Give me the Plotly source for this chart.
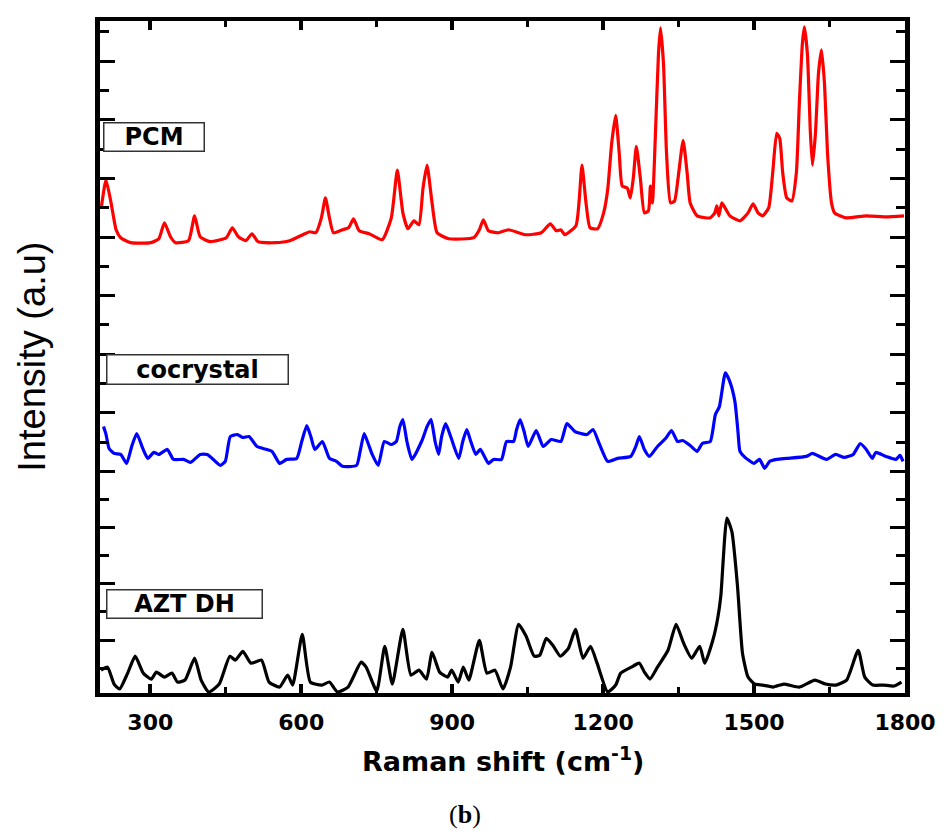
import plotly.graph_objects as go

# ---------------- data (Raman shift in cm-1, intensity in a.u. incl. stack offset) ----------------
pcm_x = [203, 212, 222, 232, 241, 261, 301, 317, 328, 340, 350, 376, 388, 399, 419, 451, 463, 475,
         490, 502, 514, 548, 577, 603, 617, 629, 640, 648, 656, 664, 682, 694, 704, 715, 735, 761,
         779, 791, 802, 812, 824, 834, 842, 850, 860, 870, 893, 943, 954, 962, 972, 992, 1012, 1045,
         1077, 1095, 1107, 1116, 1124, 1146, 1152, 1158, 1166, 1174, 1189, 1201, 1209, 1217, 1225,
         1232, 1238, 1248, 1254, 1260, 1266, 1274, 1282, 1290, 1294, 1298, 1304, 1310, 1314, 1320,
         1326, 1334, 1342, 1349, 1359, 1367, 1373, 1387, 1413, 1422, 1426, 1430, 1436, 1452, 1472,
         1488, 1498, 1508, 1517, 1529, 1537, 1545, 1551, 1557, 1565, 1575, 1584, 1590, 1596, 1600,
         1606, 1612, 1616, 1622, 1628, 1634, 1640, 1646, 1654, 1660, 1683, 1723, 1762, 1798]
pcm_y = [480, 506, 483, 456, 448, 443, 443, 447, 463, 449, 443, 445, 470, 449, 444, 448, 458, 449,
         445, 452, 444, 443, 445, 451, 454, 453, 468, 488, 468, 453, 456, 458, 467, 455, 452, 446,
         468, 516, 473, 457, 465, 461, 498, 521, 483, 453, 447, 448, 456, 466, 455, 453, 456, 451,
         453, 462, 455, 456, 451, 460, 483, 521, 483, 458, 457, 473, 496, 543, 571,
         533, 500, 498, 488, 508, 540, 508, 473, 475, 500, 483, 553, 633, 659, 623,
         533, 483, 485, 508, 546, 513, 483, 470, 468, 473, 480, 470, 483, 470, 465,
         473, 482, 473, 470, 478, 513, 553, 548, 513, 488, 485, 513, 583, 643, 660,
         633, 553, 521, 553, 613, 637, 603, 533, 483, 473, 468, 470, 469, 470]

co_x = [207, 212, 218, 228, 241, 253, 263, 273, 285, 295, 307, 317, 334, 346, 366, 380, 399, 413,
        423, 439, 449, 459, 473, 484, 496, 512, 524, 542, 557, 571, 591, 601, 611, 619, 627, 642,
        656, 670, 682, 710, 717, 725, 733, 741, 753, 765, 779, 789, 796, 802, 810, 820, 840, 850,
        858, 866, 873, 879, 887, 897, 913, 921, 929, 937, 947, 956, 972, 982, 998, 1008, 1022,
        1028, 1035, 1043, 1051, 1067, 1081, 1097, 1116, 1128, 1144, 1156, 1168, 1180, 1193, 1209,
        1229, 1255, 1265, 1272, 1282, 1292, 1308, 1324, 1336, 1348, 1358, 1373, 1387, 1397, 1413,
        1423, 1431, 1443, 1452, 1462, 1468, 1472, 1482, 1500, 1511, 1521, 1531, 1545, 1565, 1604,
        1616, 1644, 1662, 1679, 1697, 1711, 1723, 1735, 1742, 1762, 1782, 1790, 1796]
co_y = [258, 250, 236, 231, 230, 221, 238, 251, 236, 226, 232, 230, 235, 225, 225, 222, 230, 230,
        226, 219, 223, 248, 250, 247, 248, 238, 236, 233, 221, 225, 226, 243, 259, 248, 235, 243,
        226, 223, 218, 219, 233, 251, 241, 230, 219, 243, 240, 243, 258, 265, 243, 225, 244, 258,
        265, 243, 230, 248, 261, 248, 226, 243, 255, 243, 230, 235, 221, 225, 225, 243, 243,
        255, 265, 253, 238, 254, 238, 245, 243, 261, 253, 251, 250, 255, 240, 223,
        226, 228, 238, 248, 235, 228, 238, 246, 254, 243, 244, 239, 233, 241, 243,
        270, 278, 312, 303, 283, 253, 233, 227, 221, 225, 216, 223, 225, 226, 228,
        231, 225, 230, 227, 230, 241, 235, 226, 232, 228, 225, 229, 223]

azt_x = [202, 215, 228, 239, 255, 270, 286, 302, 312, 328, 343, 354, 369, 388, 401, 416, 437, 458,
         469, 484, 500, 521, 536, 557, 573, 583, 602, 618, 641, 656, 672, 693, 719, 729, 750, 766,
         781, 802, 818, 834, 849, 860, 875, 891, 899, 912, 922, 933, 954, 969, 985, 1001, 1016,
         1032, 1047, 1063, 1074, 1087, 1100, 1115, 1131, 1145, 1160, 1175, 1188, 1209, 1225, 1235,
         1256, 1272, 1282, 1293, 1308, 1329, 1345, 1360, 1376, 1392, 1402, 1418, 1428, 1434, 1446,
         1456, 1467, 1477, 1488, 1501, 1517, 1538, 1559, 1590, 1621, 1642, 1663, 1684, 1707, 1720,
         1736, 1757, 1778, 1793]
azt_y = [13, 16, -1, -6, 10, 27, 10, 4, 11, 6, 10, 1, 3, 25, 3, -9, -1, 27,
         23, 32, 20, 23, 1, -4, 8, -2, 49, 1, -2, 1, -9, -4, 21, 16, -8, 37,
         -1, 54, 8, 13, 4, 31, 11, 6, 13, 1, 16, 3, 43, 10, 13, -6, 16,
         59, 47, 27, 28, 45, 38, 27, 35, 54, 25, 37, 20, -9, -2, 10,
         16, 20, 11, 4, 16, 33, 59, 40, 25, 37, 20, 43, 66, 88, 166,
         152, 98, 30, 6, -1, -2, -4, -1, -4, 3, -1, -2, 3, 33, 6,
         -2, -2, -3, 1]

labels = ["PCM", "cocrystal", "AZT DH"]
x_major = [300, 600, 900, 1200, 1500, 1800]
x_minor = [450, 750, 1050, 1350, 1650]

# ---------------- tick positions on the (unlabelled) intensity axis ----------------
upper = [655 - 29.47 * k for k in range(16)]
lower = [213 - 28.3 * j for j in range(1, 8)]
y_major = [v for k, v in enumerate(upper) if k % 2 == 1] + [v for j, v in enumerate(lower, 1) if j % 2 == 0]
y_minor = [v for k, v in enumerate(upper) if k % 2 == 0] + [v for j, v in enumerate(lower, 1) if j % 2 == 1]

fig = go.Figure()
for xs, ys, col in [(pcm_x, pcm_y, "#ff0000"), (co_x, co_y, "#0000ff"), (azt_x, azt_y, "#000000")]:
    fig.add_trace(go.Scatter(x=xs, y=ys, mode="lines",
                             line=dict(color=col, width=3.2, shape="spline", smoothing=0.5),
                             showlegend=False, hoverinfo="skip"))

# page body has an 8px margin, so the figure is drawn 8px smaller and offset accordingly
fig.update_layout(
    width=937, height=826,
    margin=dict(l=92, r=36, t=9, b=141),
    paper_bgcolor="white", plot_bgcolor="white",
    showlegend=False,
)
fig.update_xaxes(
    range=[200, 1800], showgrid=False, zeroline=False,
    showline=True, linewidth=4, linecolor="black", mirror="allticks",
    ticks="inside", tickmode="array", tickvals=x_major, ticktext=[str(v) for v in x_major],
    ticklen=9, tickwidth=4, tickcolor="black",
    tickfont=dict(family="DejaVu Sans", size=22, color="black", weight="bold"),
    ticklabelstandoff=7,
    minor=dict(tickmode="array", tickvals=x_minor, ticks="inside", ticklen=6, tickwidth=3, tickcolor="black"),
)
fig.update_yaxes(
    range=[-10, 666], showgrid=False, zeroline=False,
    showline=True, linewidth=4.5, linecolor="black", mirror="allticks",
    ticks="inside", tickmode="array", tickvals=y_major,
    ticklen=15, tickwidth=3, tickcolor="black", showticklabels=False,
    minor=dict(tickmode="array", tickvals=y_minor, ticks="inside", ticklen=9, tickwidth=3, tickcolor="black"),
)

box_font = dict(family="DejaVu Sans", size=24, color="black", weight="bold")
boxes = [(0.0668, 0.8277, 99, 27), (0.1207, 0.4808, 180, 28), (0.1046, 0.1324, 154, 27)]
for lab, (bx, by, bw, bh) in zip(labels, boxes):
    fig.add_annotation(xref="paper", yref="paper", x=bx, y=by, xanchor="center", yanchor="middle",
                       text=lab, showarrow=False, font=box_font, width=bw, height=bh, align="center",
                       valign="middle", bordercolor="#333333", borderwidth=1.5, borderpad=0,
                       bgcolor="white")

fig.add_annotation(xref="paper", yref="paper", x=0.5, y=-0.099, xanchor="center", yanchor="middle",
                   text="Raman shift (cm<sup>-1</sup>)", showarrow=False,
                   font=dict(family="DejaVu Sans", size=27, color="black", weight="bold"))
fig.add_annotation(xref="paper", yref="paper", x=-0.0848, y=0.5, xanchor="center", yanchor="middle",
                   text="Intensity (a.u)", textangle=-90, showarrow=False,
                   font=dict(family="Liberation Sans", size=38, color="black"))
fig.add_annotation(xref="paper", yref="paper", x=0.4536, y=-0.1805, xanchor="center", yanchor="middle",
                   text="(<b>b</b>)", showarrow=False,
                   font=dict(family="Liberation Serif", size=26, color="black"))

fig.write_html("out.html")
